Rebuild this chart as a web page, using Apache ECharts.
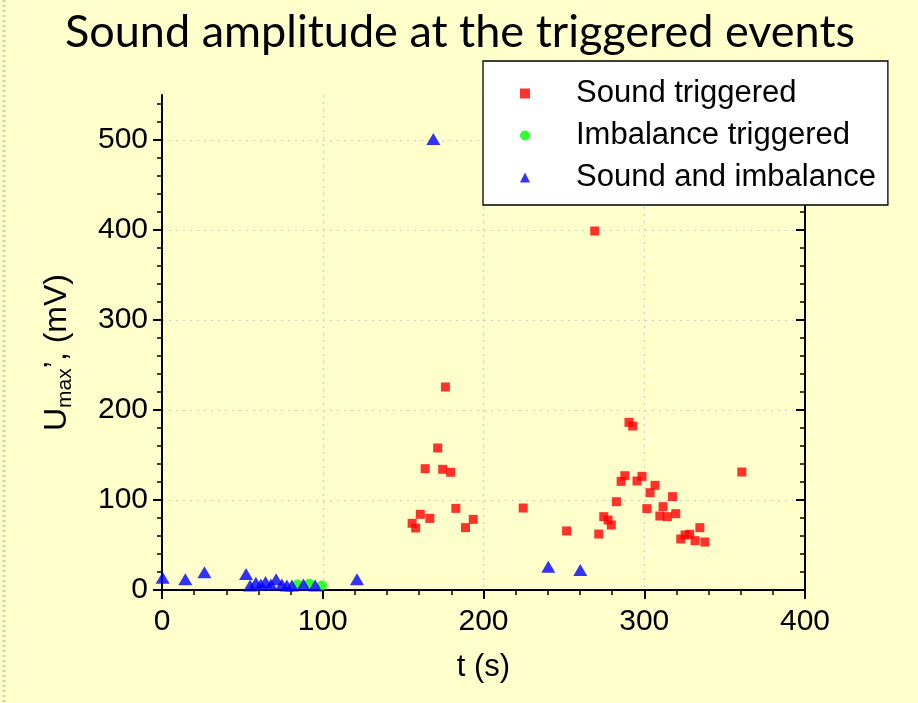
<!DOCTYPE html>
<html><head><meta charset="utf-8">
<script src="https://cdn.jsdelivr.net/npm/echarts@6/dist/echarts.min.js"></script>
<style>html,body{margin:0;padding:0;background:#FFFFCC}#c{width:918px;height:703px}</style>
</head><body><div id="c"></div>
<script>
// ---- data (t in s, Umax in mV) ----
const soundT = [155.6,157.8,160.7,163.7,166.6,171.5,174.6,176.3,179.6,182.8,188.8,193.6,224.7,251.7,269.2,271.7,274.8,277.5,279.5,282.7,285.6,287.9,290.5,292.8,295.5,298.6,301.6,303.6,306.7,309.7,311.7,314.4,317.6,319.6,322.7,325.4,328.3,331.6,334.6,337.7,360.7];
const soundU = [74.1,68.9,84.1,134.8,79.6,157.8,134.1,225.6,130.8,90.7,69.3,78.5,91.1,65.6,398.9,62.2,81.5,77.8,72.2,98.1,120.7,127.0,186.3,182.2,121.1,126.3,90.4,108.1,116.3,82.2,92.6,81.5,103.7,84.8,56.7,61.1,61.9,54.8,69.3,53.3,131.1];
const imbT = [84.3,91.6,99.5];
const imbU = [6,7,5];
const bothT = [0.4,14.5,26.4,52.3,54.8,58.4,61.5,64.4,67.7,71.0,74.6,77.7,80.8,88.0,95.3,121.3,168.8,240.3,260.2];
const bothU = [13.7,11.9,19.7,17.8,5,8,6,9,6,12,6,5,5,6,5,11.9,501,25.9,22.2];
const seriesNames = ['Sound triggered','Imbalance triggered','Sound and imbalance'];
const xTicks = [0,100,200,300,400];
const yTicks = [0,100,200,300,400,500];
const titleText = 'Sound amplitude at the triggered events';

const pairs = (a,b) => a.map((v,i)=>[v,b[i]]);
const yMinor = []; for (let v = 0; v <= 540; v += 20) yMinor.push(v);

const lab = {fontFamily:'Liberation Sans', fontSize:30, color:'#000'};
const axLine = {show:true, lineStyle:{color:'#000', width:2}};
const grid = {left:162, top:95, width:643, height:495};

const chart = echarts.init(document.getElementById('c'), null, {renderer:'canvas'});
chart.setOption({
  backgroundColor:'#FFFFCC',
  animation:false,
  title:{text:titleText, left:455, textAlign:'center', top:5,
    textStyle:{fontFamily:'Lato', fontWeight:'normal', fontSize:45, color:'#000'}},
  grid: grid,
  legend:{orient:'vertical', left:483, top:61, padding:[17,12,12,37], itemGap:11,
    itemWidth:10, itemHeight:10, backgroundColor:'#fff', borderColor:'#000', borderWidth:1.3,
    textStyle:{fontFamily:'Liberation Sans', fontSize:31, color:'#000', lineHeight:31, padding:[0,0,0,41]},
    data:[{name:seriesNames[0], icon:'rect'},{name:seriesNames[1], icon:'circle'},{name:seriesNames[2], icon:'triangle'}]},
  xAxis:[
    {type:'value', position:'bottom', min:0, max:400, interval:100,
     name:'t (s)', nameLocation:'middle', nameGap:62, nameTextStyle:{fontFamily:'Liberation Sans', fontSize:31, color:'#000'},
     axisLine:axLine, axisTick:{show:true, inside:false, length:9, lineStyle:{color:'#000', width:2}},
     minorTick:{show:true, splitNumber:5, length:5, lineStyle:{color:'#000', width:1.5}},
     axisLabel:Object.assign({margin:17, customValues:xTicks}, lab),
     splitLine:{show:true, lineStyle:{color:'#cfcfcf', width:1.2, type:[2,5]}}},
    {type:'value', position:'top', min:0, max:400, interval:20,
     axisLine:axLine, axisTick:{show:true, inside:true, length:5, lineStyle:{color:'#000', width:1.5}},
     axisLabel:{show:false}, splitLine:{show:false}}
  ],
  yAxis:[
    {type:'value', position:'left', min:0, max:550, interval:100,
     name:'{u|U}{s|max}{u|\u2019, (mV)}', nameLocation:'middle', nameGap:86, nameRotate:90,
     nameTextStyle:{padding:[0,0,0,-20], rich:{
       u:{fontFamily:'Liberation Sans', fontSize:32, color:'#000', lineHeight:38, verticalAlign:'middle'},
       s:{fontFamily:'Liberation Sans', fontSize:21, color:'#000', lineHeight:21, verticalAlign:'bottom'}}},
     axisLine:axLine,
     axisTick:{show:true, inside:false, length:9, customValues:yTicks, lineStyle:{color:'#000', width:2}},
     axisLabel:Object.assign({margin:14, customValues:yTicks}, lab),
     splitLine:{show:true, lineStyle:{color:'#cfcfcf', width:1.2, type:[2,5]}}},
    {type:'value', position:'left', min:0, max:550, interval:100,
     axisLine:{show:false}, axisTick:{show:true, inside:false, length:5, customValues:yMinor, lineStyle:{color:'#000', width:1.5}},
     axisLabel:{show:false}, splitLine:{show:false}},
    {type:'value', position:'right', min:0, max:550, interval:100,
     axisLine:axLine, axisTick:{show:true, inside:true, length:5, customValues:yMinor, lineStyle:{color:'#000', width:1.5}},
     axisLabel:{show:false}, splitLine:{show:false}},
    {type:'value', position:'right', min:0, max:550, interval:100,
     axisLine:{show:false}, axisTick:{show:true, inside:true, length:9, customValues:yTicks, lineStyle:{color:'#000', width:2}},
     axisLabel:{show:false}, splitLine:{show:false}}
  ],
  graphic:[{type:'line', shape:{x1:4, y1:0, x2:4, y2:703}, style:{stroke:'#d0d0b0', lineWidth:3, lineDash:[2,3]}, silent:true}],
  series:[
    {name:seriesNames[0], type:'scatter', symbol:'rect', symbolSize:9, itemStyle:{color:'#FF0000'}, data:pairs(soundT,soundU), z:3},
    {name:seriesNames[1], type:'scatter', symbol:'circle', symbolSize:10, itemStyle:{color:'#00FF00'}, data:pairs(imbT,imbU), z:3},
    {name:seriesNames[2], type:'scatter', symbol:'triangle', symbolSize:[14,12], itemStyle:{color:'#0000FF'}, data:pairs(bothT,bothU), z:4}
  ]
});
</script></body></html>
